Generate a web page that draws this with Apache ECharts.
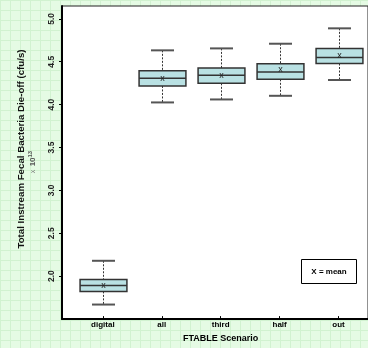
<!DOCTYPE html>
<html><head><meta charset="utf-8">
<script src="https://cdn.jsdelivr.net/npm/echarts@6/dist/echarts.min.js"></script>
<style>html,body{margin:0;padding:0;}#c{width:368px;height:348px;}</style>
</head><body><div id="c"></div>
<script>
var categories = ['digital', 'all', 'third', 'half', 'out'];
var whiskerLow = [1.636, 4.015, 4.05, 4.093, 4.279];
var q1 = [1.791, 4.209, 4.24, 4.287, 4.473];
var median = [1.86, 4.299, 4.334, 4.372, 4.543];
var q3 = [1.93, 4.387, 4.419, 4.469, 4.651];
var whiskerHigh = [2.151, 4.628, 4.651, 4.706, 4.887];
var means = [1.86, 4.30, 4.326, 4.40, 4.562];
var yTicks = {min: 1.5, max: 5.15, interval: 0.5};

var data = categories.map(function (c, i) {
  return [i, whiskerLow[i], q1[i], median[i], q3[i], whiskerHigh[i], means[i]];
});

// graph-paper background pattern
var pc = document.createElement('canvas');
pc.width = 10; pc.height = 10;
var g = pc.getContext('2d');
g.fillStyle = '#e5fbe4'; g.fillRect(0, 0, 10, 10);
g.fillStyle = '#d1f2d0'; g.fillRect(0, 0, 10, 1); g.fillRect(0, 0, 1, 10);

var chart = echarts.init(document.getElementById('c'), null, {renderer: 'canvas'});
var FONT = '"Liberation Sans", Arial, sans-serif';

function renderItem(params, api) {
  var x = api.value(0);
  var pLow = api.coord([x, api.value(1)]);
  var pQ1 = api.coord([x, api.value(2)]);
  var pMed = api.coord([x, api.value(3)]);
  var pQ3 = api.coord([x, api.value(4)]);
  var pHigh = api.coord([x, api.value(5)]);
  var pMean = api.coord([x, api.value(6)]);
  var band = api.size([1, 0])[0];
  var bw = band * 0.795;
  var cw = band * 0.39;
  var cx = Math.round(pMed[0]) + 0.5;
  var dash = {stroke: '#333', lineWidth: 1, lineDash: [2, 1.5]};
  var cap = {stroke: '#555', lineWidth: 2};
  var body = {stroke: '#333', lineWidth: 1.5};
  return {
    type: 'group',
    children: [
      {type: 'line', shape: {x1: cx, y1: pHigh[1], x2: cx, y2: pQ3[1]}, style: dash},
      {type: 'line', shape: {x1: cx, y1: pQ1[1], x2: cx, y2: pLow[1]}, style: dash},
      {type: 'line', shape: {x1: cx - cw / 2, y1: pHigh[1], x2: cx + cw / 2, y2: pHigh[1]}, style: cap},
      {type: 'line', shape: {x1: cx - cw / 2, y1: pLow[1], x2: cx + cw / 2, y2: pLow[1]}, style: cap},
      {type: 'rect', shape: {x: cx - bw / 2, y: pQ3[1], width: bw, height: pQ1[1] - pQ3[1]},
        style: {fill: '#b9e1e3', stroke: '#333', lineWidth: 1.5}},
      {type: 'line', shape: {x1: cx - bw / 2, y1: pMed[1], x2: cx + bw / 2, y2: pMed[1]}, style: body},
      {type: 'text', x: cx, y: pMean[1], style: {text: 'x', font: '9px ' + FONT, fill: '#222', align: 'center', verticalAlign: 'middle'}}
    ]
  };
}

var option = {
  backgroundColor: {image: pc, repeat: 'repeat'},
  animation: false,
  grid: [
    {left: 62, top: 6, right: -10, bottom: 29, show: true, backgroundColor: '#fff', borderColor: '#222', borderWidth: 1, containLabel: false},
    {left: 73.4, top: 6, right: -1.6, bottom: 29, containLabel: false}
  ],
  xAxis: [
    {gridIndex: 0, type: 'value', min: 0, max: 1, axisLine: {show: true, onZero: false, lineStyle: {color: '#000', width: 2}},
      axisTick: {show: false}, axisLabel: {show: false}, splitLine: {show: false}},
    {gridIndex: 1, type: 'category', data: categories, axisLine: {show: false},
      axisTick: {show: true, alignWithLabel: true, length: 3, lineStyle: {color: '#000', width: 1}},
      axisLabel: {color: '#000', fontFamily: FONT, fontWeight: 'bold', fontSize: 8, margin: 5},
      name: 'FTABLE Scenario', nameLocation: 'middle', nameGap: 16,
      nameTextStyle: {color: '#000', fontFamily: FONT, fontWeight: 'bold', fontSize: 9}}
  ],
  yAxis: [
    {gridIndex: 0, type: 'value', min: yTicks.min, max: yTicks.max, interval: yTicks.interval,
      axisLine: {show: true, lineStyle: {color: '#000', width: 2}},
      axisTick: {show: true, length: 3, lineStyle: {color: '#000'}},
      axisLabel: {rotate: 90, showMinLabel: false, showMaxLabel: false, color: '#222', fontFamily: FONT, fontWeight: 'bold', fontSize: 8.5, margin: 6,
        formatter: function (v) { return v.toFixed(1); }},
      splitLine: {show: false}},
    {gridIndex: 1, type: 'value', min: yTicks.min, max: yTicks.max, show: false, splitLine: {show: false}}
  ],
  series: [{
    type: 'custom', xAxisIndex: 1, yAxisIndex: 1,
    renderItem: renderItem,
    encode: {x: 0, y: [1, 2, 3, 4, 5, 6]},
    data: data
  }],
  graphic: [
    {type: 'text', x: 21, y: 149, rotation: Math.PI / 2,
      style: {text: 'Total Instream Fecal Bacteria Die-off (cfu/s)', font: 'bold 9.7px ' + FONT, fill: '#111', align: 'center', verticalAlign: 'middle'}},
    {type: 'text', x: 33, y: 162, rotation: Math.PI / 2,
      style: {text: '{a|x} {b|10}{c|13}', align: 'center', verticalAlign: 'middle',
        rich: {a: {font: '7px ' + FONT, fill: '#777'}, b: {font: 'bold 8px ' + FONT, fill: '#555'}, c: {font: 'bold 6px ' + FONT, fill: '#555', verticalAlign: 'top'}}}},
    {type: 'rect', shape: {x: 301.5, y: 259.5, width: 55, height: 24}, style: {fill: '#fff', stroke: '#000', lineWidth: 1}},
    {type: 'text', x: 329, y: 271.5, style: {text: 'X = mean', font: 'bold 8px ' + FONT, fill: '#000', align: 'center', verticalAlign: 'middle'}}
  ]
};
chart.setOption(option);
</script>
</body></html>
